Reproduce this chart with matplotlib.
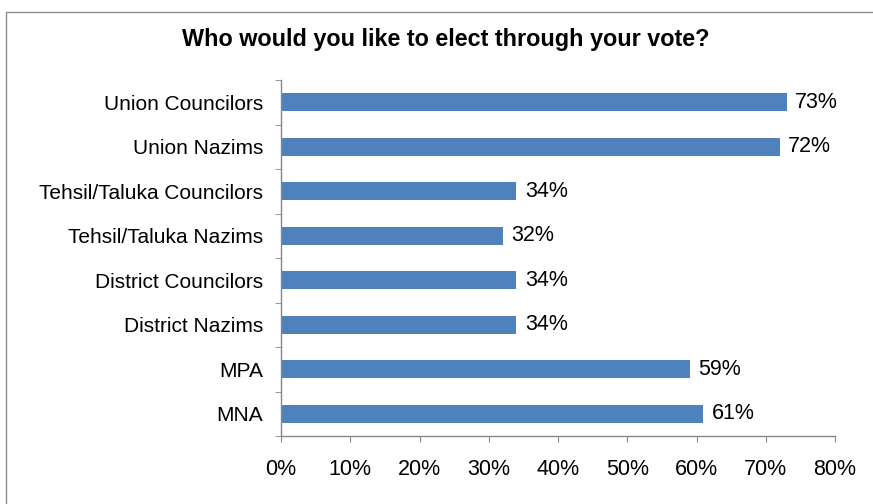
import matplotlib
matplotlib.use("Agg")
import matplotlib.pyplot as plt
from matplotlib.patches import Rectangle
from matplotlib.ticker import FixedLocator, MultipleLocator, FuncFormatter

categories = [
    "Union Councilors",
    "Union Nazims",
    "Tehsil/Taluka Councilors",
    "Tehsil/Taluka Nazims",
    "District Councilors",
    "District Nazims",
    "MPA",
    "MNA",
]
values = [73, 72, 34, 32, 34, 34, 59, 61]
title = "Who would you like to elect through your vote?"

plt.rcParams["font.family"] = ["Liberation Sans", "DejaVu Sans"]

W, H = 873, 504
fig = plt.figure(figsize=(W / 100, H / 100), dpi=100)
fig.patch.set_facecolor("white")

# outer chart frame
fig.add_artist(Rectangle((6 / W, -0.05), 1.0, 1 - 12 / H + 0.05,
                         transform=fig.transFigure, fill=False,
                         edgecolor="#8c8c8c", linewidth=1.0))

ax = fig.add_axes([281 / W, 1 - 436 / H, (835 - 281) / W, (436 - 80) / H])

n = len(categories)
ypos = list(range(n))
ax.barh(ypos, values, height=0.41, color="#4F81BD", zorder=2)
ax.set_ylim(n - 0.5, -0.5)
ax.set_xlim(0, 80)

ax.set_yticks(ypos)
ax.set_yticklabels(categories, fontsize=15)
ax.yaxis.set_minor_locator(FixedLocator([i - 0.5 for i in range(n + 1)]))
ax.tick_params(axis="y", which="major", length=0, pad=13)
ax.tick_params(axis="y", which="minor", length=4, color="#868686", direction="out")

ax.xaxis.set_major_locator(MultipleLocator(10))
ax.xaxis.set_major_formatter(FuncFormatter(lambda v, p: f"{int(round(v))}%"))
ax.tick_params(axis="x", which="major", length=4.5, color="#868686",
               labelsize=15.5, pad=12)

for s in ("top", "right"):
    ax.spines[s].set_visible(False)
for s in ("left", "bottom"):
    ax.spines[s].set_color("#868686")
    ax.spines[s].set_linewidth(1.0)

for y, v in zip(ypos, values):
    ax.annotate(f"{v}%", (v, y), xytext=(6, 0), textcoords="offset points",
                va="center", ha="left", fontsize=15.5, color="black")

fig.text(446 / W, 1 - 40 / H, title, ha="center", va="center",
         fontsize=16.8, fontweight="bold")

fig.savefig("out.png", dpi=100)
